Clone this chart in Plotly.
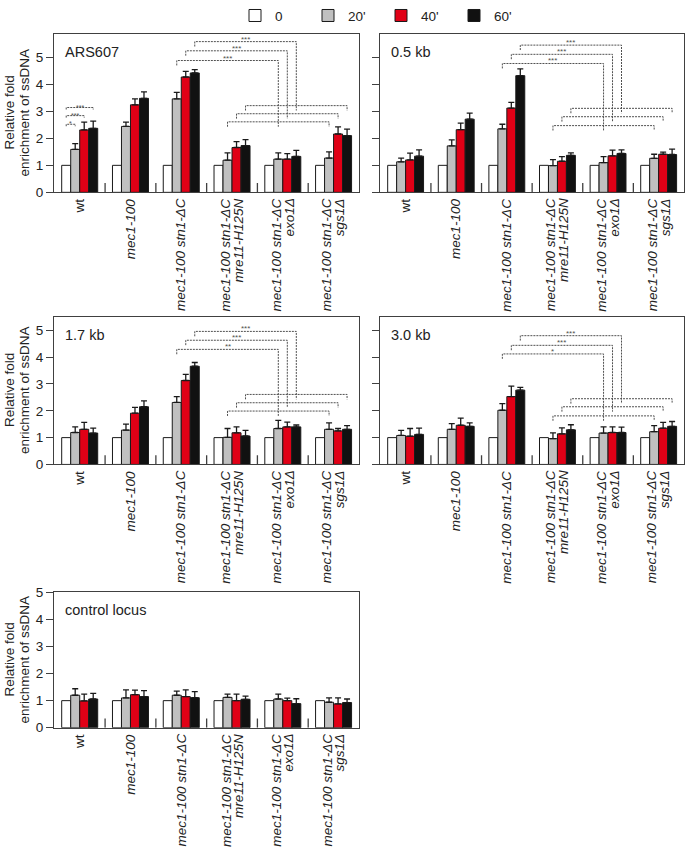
import plotly.graph_objects as go

W, H = 689, 847

# ---------------- data ----------------
CATEGORY_LINES = [
    ["wt"],
    ["<i>mec1-100</i>"],
    ["<i>mec1-100 stn1-ΔC</i>"],
    ["<i>mec1-100 stn1-ΔC</i>", "<i>mre11-H125N</i>"],
    ["<i>mec1-100 stn1-ΔC</i>", "<i>exo1Δ</i>"],
    ["<i>mec1-100 stn1-ΔC</i>", "<i>sgs1Δ</i>"],
]
TIMES = ["0", "20'", "40'", "60'"]
COLORS = ["#ffffff", "#c0c0c0", "#e00016", "#111111"]

T0 = [1.0, 1.0, 1.0, 1.0, 1.0, 1.0]

# ARS607
ARS_20 = [1.59, 2.44, 3.46, 1.19, 1.23, 1.27]
ARS_40 = [2.31, 3.24, 4.27, 1.66, 1.23, 2.16]
ARS_60 = [2.37, 3.48, 4.42, 1.73, 1.33, 2.10]
ARS_E20 = [0.21, 0.16, 0.24, 0.27, 0.23, 0.23]
ARS_E40 = [0.29, 0.22, 0.21, 0.22, 0.20, 0.26]
ARS_E60 = [0.27, 0.24, 0.12, 0.22, 0.22, 0.24]

# 0.5 kb
K05_20 = [1.13, 1.72, 2.35, 0.99, 1.10, 1.26]
K05_40 = [1.20, 2.32, 3.12, 1.15, 1.35, 1.41]
K05_60 = [1.34, 2.71, 4.32, 1.37, 1.44, 1.40]
K05_E20 = [0.14, 0.22, 0.17, 0.22, 0.22, 0.15]
K05_E40 = [0.25, 0.24, 0.21, 0.17, 0.21, 0.08]
K05_E60 = [0.23, 0.22, 0.25, 0.09, 0.13, 0.20]

# 1.7 kb
K17_20 = [1.19, 1.28, 2.31, 1.01, 1.34, 1.31]
K17_40 = [1.31, 1.91, 3.13, 1.18, 1.40, 1.25]
K17_60 = [1.17, 2.15, 3.66, 1.06, 1.40, 1.31]
K17_E20 = [0.21, 0.22, 0.22, 0.33, 0.30, 0.24]
K17_E40 = [0.26, 0.22, 0.23, 0.22, 0.18, 0.09]
K17_E60 = [0.18, 0.22, 0.14, 0.21, 0.07, 0.14]

# 3.0 kb
K30_20 = [1.08, 1.31, 2.02, 0.96, 1.17, 1.22]
K30_40 = [1.05, 1.46, 2.53, 1.14, 1.19, 1.35]
K30_60 = [1.12, 1.42, 2.77, 1.29, 1.19, 1.42]
K30_E20 = [0.19, 0.21, 0.25, 0.22, 0.23, 0.23]
K30_E40 = [0.29, 0.27, 0.39, 0.22, 0.21, 0.22]
K30_E60 = [0.23, 0.13, 0.10, 0.19, 0.20, 0.18]

# control locus
CTL_20 = [1.20, 1.10, 1.20, 1.12, 1.06, 0.94]
CTL_40 = [0.99, 1.22, 1.15, 1.00, 1.00, 0.88]
CTL_60 = [1.06, 1.15, 1.11, 1.05, 0.89, 0.93]
CTL_E20 = [0.24, 0.30, 0.15, 0.12, 0.18, 0.16]
CTL_E40 = [0.25, 0.17, 0.25, 0.24, 0.09, 0.22]
CTL_E60 = [0.21, 0.22, 0.22, 0.12, 0.18, 0.13]

# significance brackets (heights in y units, per time point 20', 40', 60')
ARS_UP = [4.88, 5.24, 5.58]
ARS_LOW = [2.61, 2.91, 3.21]
ARS_STARS = ["***", "***", "***"]
ARS_WT_H = [2.52, 2.84, 3.14]
ARS_WT_STARS = ["*", "***", "***"]
K05_UP = [4.77, 5.11, 5.45]
K05_LOW = [2.47, 2.80, 3.11]
K05_STARS = ["***", "***", "***"]
K17_UP = [4.29, 4.63, 4.96]
K17_LOW = [1.99, 2.30, 2.61]
K17_STARS = ["**", "***", "***"]
K30_UP = [4.12, 4.44, 4.80]
K30_LOW = [1.81, 2.15, 2.45]
K30_STARS = ["*", "***", "***"]

# ---------------- layout helpers ----------------
S = 5.641            # group stride in bar widths
XR = [-0.856, 33.03]  # x range in bar widths

panels = [
    dict(name="ARS607", frame=(54, 359, 24.3, 186.3), ytop=5.87, ylab=True,
         vals=[T0, ARS_20, ARS_40, ARS_60], errs=[None, ARS_E20, ARS_E40, ARS_E60],
         up=ARS_UP, low=ARS_LOW, stars=ARS_STARS, wt=(ARS_WT_H, ARS_WT_STARS)),
    dict(name="0.5 kb", frame=(380, 684, 24.3, 186.3), ytop=5.87, ylab=False,
         vals=[T0, K05_20, K05_40, K05_60], errs=[None, K05_E20, K05_E40, K05_E60],
         up=K05_UP, low=K05_LOW, stars=K05_STARS, wt=None),
    dict(name="1.7 kb", frame=(54, 359, 313.3, 464.3), ytop=5.51, ylab=True,
         vals=[T0, K17_20, K17_40, K17_60], errs=[None, K17_E20, K17_E40, K17_E60],
         up=K17_UP, low=K17_LOW, stars=K17_STARS, wt=None),
    dict(name="3.0 kb", frame=(380, 684, 313.3, 464.3), ytop=5.51, ylab=False,
         vals=[T0, K30_20, K30_40, K30_60], errs=[None, K30_E20, K30_E40, K30_E60],
         up=K30_UP, low=K30_LOW, stars=K30_STARS, wt=None),
    dict(name="control locus", frame=(54, 359, 595, 733.3), ytop=5.0, ylab=True,
         vals=[T0, CTL_20, CTL_40, CTL_60], errs=[None, CTL_E20, CTL_E40, CTL_E60],
         up=None, low=None, stars=None, wt=None),
]

FONT = "Arial, Liberation Sans, sans-serif"
TXT = "#222222"
AX = "#404040"
DOT = "#505050"
LBL = 13.5

fig = go.Figure()
shapes = []
annotations = []


def bx(g, k):
    return g * S + k + 0.5


for i, p in enumerate(panels):
    n = "" if i == 0 else str(i + 1)
    xa, ya = "x" + n, "y" + n
    x0, x1, ytp, ybt = p["frame"]
    ppu = (ybt - ytp) / p["ytop"]  # pixels per y unit

    for k in range(4):
        err = p["errs"][k]
        fig.add_trace(go.Bar(
            x=[bx(g, k) for g in range(6)], y=p["vals"][k], width=1.0,
            name=TIMES[k], legendgroup=TIMES[k], showlegend=(i == 0),
            marker=dict(color=COLORS[k], line=dict(color="#1a1a1a", width=1)),
            error_y=(dict(type="data", array=err, arrayminus=[0] * 6, symmetric=False,
                          color="#1a1a1a", thickness=1.3, width=3)
                     if err is not None else dict(visible=False)),
            xaxis=xa, yaxis=ya, hoverinfo="skip",
        ))

    fig.update_layout(**{
        ("xaxis" + n): dict(
            domain=[x0 / W, x1 / W], range=XR, anchor=ya,
            showticklabels=False, ticks="", showgrid=False, zeroline=False,
            showline=True, mirror=True, linecolor=AX, linewidth=1.3,
        ),
        ("yaxis" + n): dict(
            domain=[1 - ybt / H, 1 - ytp / H], range=[0, p["ytop"]], anchor=xa,
            tickvals=[0, 1, 2, 3, 4, 5], ticks="outside", ticklen=7, tickwidth=1.3,
            tickcolor=AX, showticklabels=p["ylab"], showgrid=False, zeroline=False,
            showline=True, mirror=True, linecolor=AX, linewidth=1.3,
            tickfont=dict(family=FONT, size=LBL, color=TXT),
        ),
    })

    # category labels (rotated, one annotation per text line)
    for g, lines in enumerate(CATEGORY_LINES):
        nl = len(lines)
        for j, t in enumerate(lines):
            annotations.append(dict(
                text=t, textangle=-90, x=g * S + 2, y=0, xref=xa, yref=ya,
                xanchor="center", yanchor="top", showarrow=False,
                xshift=(j - (nl - 1) / 2) * 12.5, yshift=-4,
                font=dict(family=FONT, size=LBL, color=TXT)))

    # small tick marks between groups
    for g in range(1, 6):
        xm = g * S - (S - 4) / 2
        shapes.append(dict(type="line", xref=xa, yref=ya, x0=xm, x1=xm, y0=0,
                           y1=9.5 / ppu, line=dict(color=AX, width=1.3)))

    # panel title
    annotations.append(dict(text=p["name"], x=(x0 + 9) / W, y=1 - (ytp + 18.5) / H,
                            xref="paper", yref="paper", xanchor="left", yanchor="middle",
                            showarrow=False, font=dict(family=FONT, size=14.5, color=TXT)))
    if p["ylab"]:
        for j, t in enumerate(["Relative fold", "enrichment of ssDNA"]):
            annotations.append(dict(text=t, textangle=-90,
                                    x=(9.5 + 15 * j) / W, y=1 - (ytp + ybt) / 2 / H,
                                    xref="paper", yref="paper",
                                    xanchor="center", yanchor="middle", showarrow=False,
                                    font=dict(family=FONT, size=LBL, color=TXT)))

    drop = 5 / ppu
    dline = dict(color=DOT, width=1, dash="2px,1px")
    if p["up"] is not None:
        for k in range(3):
            kk = k + 1
            up, low = p["up"][k], p["low"][k]
            xa1, xb1 = bx(2, kk), bx(4, kk)
            shapes.append(dict(type="path", xref=xa, yref=ya, line=dline,
                               path=f"M{xa1},{up - drop} L{xa1},{up} L{xb1},{up} L{xb1},{low - drop}"))
            xl, xr = bx(3, kk), bx(5, kk)
            shapes.append(dict(type="path", xref=xa, yref=ya, line=dline,
                               path=f"M{xl},{low - drop} L{xl},{low} L{xr},{low} L{xr},{low - drop}"))
            annotations.append(dict(text=p["stars"][k], x=(xa1 + xb1) / 2, y=up, xref=xa, yref=ya,
                                    xanchor="center", yanchor="bottom", showarrow=False, yshift=-4,
                                    font=dict(family=FONT, size=8, color=DOT)))
    if p["wt"] is not None:
        hs, st = p["wt"]
        for k in range(3):
            h = hs[k]
            xl, xr = bx(0, 0), bx(0, k + 1)
            shapes.append(dict(type="path", xref=xa, yref=ya, line=dline,
                               path=f"M{xl},{h - 2 / ppu} L{xl},{h} L{xr},{h} L{xr},{h - 2 / ppu}"))
            annotations.append(dict(text=st[k], x=(xl + xr) / 2, y=h, xref=xa, yref=ya,
                                    xanchor="center", yanchor="bottom", showarrow=False, yshift=-5,
                                    font=dict(family=FONT, size=7, color=DOT)))

fig.update_layout(
    width=W, height=H, autosize=False,
    margin=dict(l=0, r=0, t=0, b=0),
    paper_bgcolor="white", plot_bgcolor="white",
    barmode="overlay",
    shapes=shapes, annotations=annotations,
    showlegend=True,
    legend=dict(orientation="h", x=235 / W, y=1 + 10 / H, xanchor="left", yanchor="top",
                entrywidth=28, entrywidthmode="pixels", traceorder="normal",
                font=dict(family=FONT, size=LBL, color=TXT), bgcolor="rgba(0,0,0,0)"),
    font=dict(family=FONT, color=TXT),
)

fig.write_html("out.html")
